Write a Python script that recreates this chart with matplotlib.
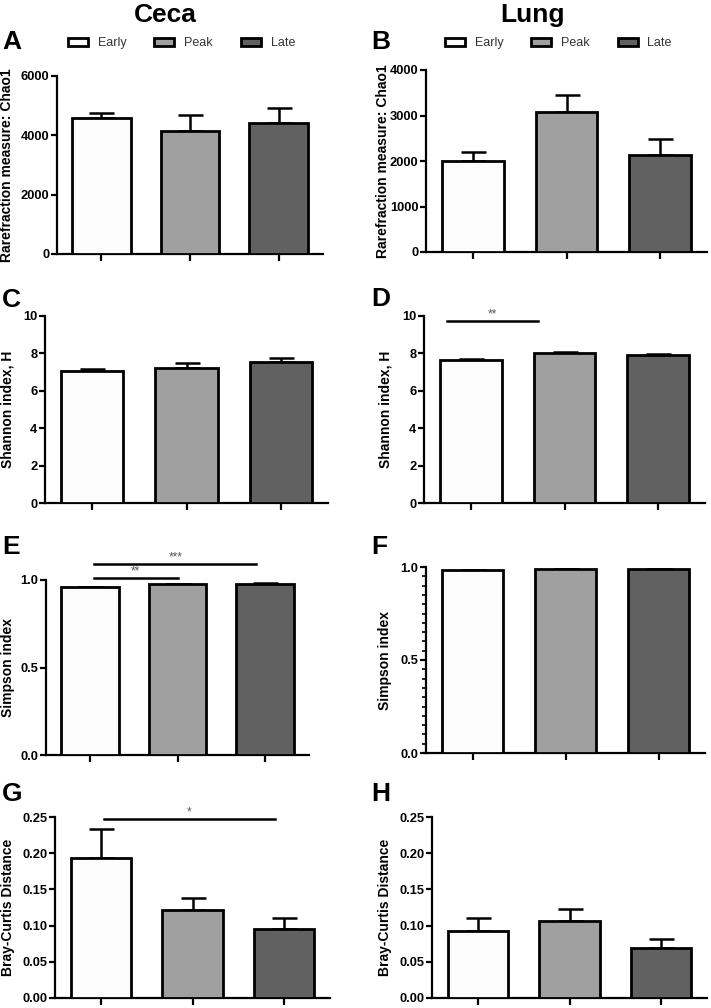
import numpy as np
import matplotlib.pyplot as plt
from matplotlib.ticker import MultipleLocator

plt.rcParams['font.family'] = ['Liberation Sans', 'DejaVu Sans']

W, H = 711, 1008

groups = ["Early", "Peak", "Late"]
colors = ["#fcfcfc", "#a0a0a0", "#616161"]

# Ceca
chao_ceca = [4600, 4160, 4430]
chao_ceca_err = [160, 540, 490]
shannon_ceca = [7.05, 7.2, 7.54]
shannon_ceca_err = [0.1, 0.3, 0.21]
simpson_ceca = [0.960, 0.975, 0.979]
simpson_ceca_err = [0.0, 0.0, 0.002]
bray_ceca = [0.193, 0.121, 0.095]
bray_ceca_err = [0.040, 0.017, 0.015]

# Lung
chao_lung = [2010, 3080, 2130]
chao_lung_err = [190, 380, 350]
shannon_lung = [7.67, 8.03, 7.89]
shannon_lung_err = [0.05, 0.03, 0.09]
simpson_lung = [0.985, 0.987, 0.987]
simpson_lung_err = [0.0, 0.0, 0.0]
bray_lung = [0.092, 0.107, 0.069]
bray_lung_err = [0.018, 0.016, 0.013]

# significance bars: (x0, x1, y, text)
sig_D = [(-0.25, 0.72, 9.75, "**")]
sig_E = [(0.05, 1.0, 1.013, "**"), (0.05, 1.9, 1.093, "***")]
sig_G = [(0.03, 1.9, 0.2477, "*")]

fig = plt.figure(figsize=(W / 100, H / 100), dpi=100)


def make_ax(left, top, right, bottom):
    return fig.add_axes([left / W, 1 - bottom / H, (right - left) / W, (bottom - top) / H])


def panel(box, vals, errs, ylim, step, ylabel, letter, letter_xy, label_right,
          fmt, sigs=(), minor=None):
    left, top, right, bottom = box
    ax = make_ax(*box)
    x = np.arange(len(vals))
    bars = ax.bar(x, vals, width=0.66, color=colors, edgecolor="black",
                  linewidth=2, zorder=3)
    ax.errorbar(x, vals, yerr=[np.zeros(len(errs)), errs], fmt="none",
                ecolor="black", elinewidth=1.8, capsize=9, capthick=1.8, zorder=2)
    ax.set_xlim(-0.5, 2.5)
    ax.set_ylim(*ylim)
    ax.set_xticks(x)
    ax.set_xticklabels([])
    ax.set_yticks(np.arange(ylim[0], ylim[1] + step / 2, step))
    ax.yaxis.set_major_formatter(plt.FuncFormatter(lambda v, p: fmt.format(v)))
    if minor:
        ax.yaxis.set_minor_locator(MultipleLocator(minor))
        ax.tick_params(axis="y", which="minor", length=3, width=1.2)
    for s in ["top", "right"]:
        ax.spines[s].set_visible(False)
    for s in ["left", "bottom"]:
        ax.spines[s].set_linewidth(1.6)
    ax.tick_params(axis="x", which="major", direction="out", length=5, width=1.6)
    ax.tick_params(axis="y", which="major", direction="out", length=4, width=1.6,
                   labelsize=9.3, pad=1.5)
    for lab in ax.get_yticklabels():
        lab.set_fontweight("bold")
    ax.set_ylabel(ylabel, fontsize=10, fontweight="bold")
    ax.yaxis.set_label_coords((label_right - left) / (right - left), 0.5)
    fig.text(letter_xy[0] / W, 1 - letter_xy[1] / H, letter, fontsize=19,
             fontweight="bold", ha="left", va="center")
    for x0, x1, y, t in sigs:
        ax.plot([x0, x1], [y, y], color="black", lw=1.8, clip_on=False)
        ax.text((x0 + x1) / 2, y, t, ha="center", va="bottom", fontsize=8.5,
                color="#555555")
    return ax, bars


axA, barsA = panel((57, 76, 323, 254), chao_ceca, chao_ceca_err, (0, 6000), 2000,
                   "Rarefraction measure: Chao1", "A", (2, 42), 14, "{:.0f}")
axB, barsB = panel((426, 70, 707, 252), chao_lung, chao_lung_err, (0, 4000), 1000,
                   "Rarefraction measure: Chao1", "B", (371, 42), 390, "{:.0f}")
panel((45, 316, 328, 503), shannon_ceca, shannon_ceca_err, (0, 10), 2,
      "Shannon index, H", "C", (2, 300), 15, "{:.0f}")
panel((424, 316, 705, 503), shannon_lung, shannon_lung_err, (0, 10), 2,
      "Shannon index, H", "D", (371, 299), 392, "{:.0f}", sigs=sig_D)
panel((46, 580, 309, 755), simpson_ceca, simpson_ceca_err, (0, 1.0), 0.5,
      "Simpson index", "E", (2, 547), 15, "{:.1f}", sigs=sig_E)
panel((426, 567, 705, 753), simpson_lung, simpson_lung_err, (0, 1.0), 0.5,
      "Simpson index", "F", (371, 547), 392, "{:.1f}", minor=0.05)
panel((55, 817, 330, 998), bray_ceca, bray_ceca_err, (0, 0.25), 0.05,
      "Bray-Curtis Distance", "G", (2, 794), 15, "{:.2f}", sigs=sig_G)
panel((432, 817, 707, 998), bray_lung, bray_lung_err, (0, 0.25), 0.05,
      "Bray-Curtis Distance", "H", (371, 794), 392, "{:.2f}")

fig.text(165 / W, 1 - 15 / H, "Ceca", fontsize=19, fontweight="bold",
         ha="center", va="center")
fig.text(533 / W, 1 - 15 / H, "Lung", fontsize=19, fontweight="bold",
         ha="center", va="center")

for ax, bars, x0 in [(axA, barsA, 62), (axB, barsB, 439)]:
    ax.legend(bars, groups, ncol=3, loc="center left", frameon=False,
              bbox_to_anchor=(x0 / W, 1 - 43 / H), bbox_transform=fig.transFigure,
              borderpad=0, handlelength=1.6, handleheight=0.6, handletextpad=0.8,
              columnspacing=2.2, fontsize=9, labelcolor="#333333")

fig.savefig("out.png", dpi=100)
